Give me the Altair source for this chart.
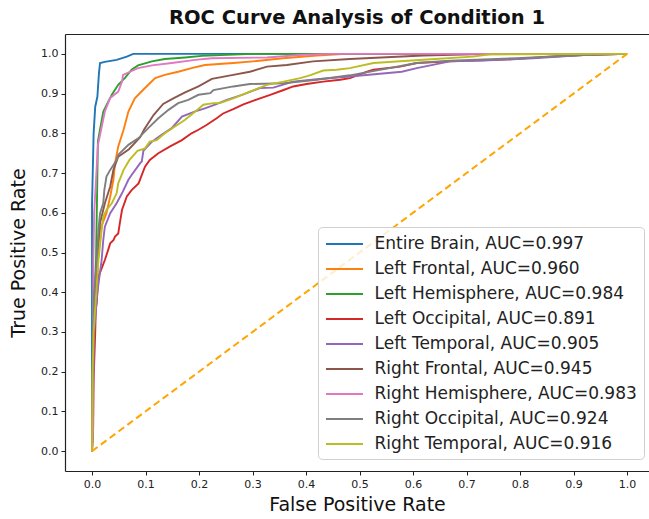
import altair as alt
import pandas as pd

FONT = "DejaVu Sans"

names = ["Entire Brain", "Left Frontal", "Left Hemisphere", "Left Occipital",
         "Left Temporal", "Right Frontal", "Right Hemisphere", "Right Occipital",
         "Right Temporal"]
aucs = [0.997, 0.960, 0.984, 0.891, 0.905, 0.945, 0.983, 0.924, 0.916]
colors = ["#1f77b4", "#ff7f0e", "#2ca02c", "#d62728", "#9467bd",
          "#8c564b", "#e377c2", "#7f7f7f", "#bcbd22"]

fpr_entire_brain = [0, 0, 0.003, 0.006, 0.010, 0.013, 0.015, 0.024, 0.046, 0.065, 0.077, 1.0]
tpr_entire_brain = [0, 0.62, 0.80, 0.867, 0.892, 0.952, 0.977, 0.980, 0.985, 0.993, 1.0, 1.0]

fpr_left_frontal = [0, 0.001, 0.004, 0.009, 0.012, 0.015, 0.027, 0.034, 0.040, 0.043, 0.049, 0.059,
                    0.068, 0.080, 0.099, 0.118, 0.136, 0.161, 0.186, 0.211, 0.264, 0.308, 0.357,
                    0.420, 0.475, 1.0]
tpr_left_frontal = [0, 0.15, 0.33, 0.38, 0.515, 0.557, 0.599, 0.641, 0.683, 0.725, 0.767, 0.809,
                    0.855, 0.888, 0.914, 0.939, 0.947, 0.955, 0.964, 0.972, 0.977, 0.982, 0.989,
                    0.996, 1.0, 1.0]

fpr_left_hemisphere = [0, 0.001, 0.003, 0.0075, 0.011, 0.015, 0.021, 0.027, 0.037, 0.049, 0.062,
                       0.074, 0.086, 0.112, 0.136, 0.174, 0.205, 0.300, 1.0]
tpr_left_hemisphere = [0, 0.20, 0.35, 0.48, 0.78, 0.81, 0.854, 0.871, 0.897, 0.922, 0.940,
                       0.960, 0.971, 0.981, 0.987, 0.991, 0.995, 1.0, 1.0]

fpr_left_occipital = [0, 0.002, 0.003, 0.006, 0.007, 0.009, 0.012, 0.018, 0.024, 0.030, 0.034,
                      0.040, 0.043, 0.049, 0.052, 0.056, 0.065, 0.074, 0.087, 0.099, 0.108, 0.124,
                      0.146, 0.168, 0.186, 0.199, 0.214, 0.233, 0.245, 0.264, 0.283, 0.314, 0.333,
                      0.358, 0.376, 0.401, 0.432, 0.464, 0.482, 0.514, 0.526, 0.576, 0.607, 0.669,
                      0.781, 0.856, 0.918, 1.0]
tpr_left_occipital = [0, 0.05, 0.18, 0.30, 0.355, 0.38, 0.439, 0.46, 0.481, 0.506, 0.523,
                      0.531, 0.540, 0.548, 0.574, 0.607, 0.641, 0.657, 0.674, 0.716, 0.733, 0.750,
                      0.767, 0.783, 0.800, 0.809, 0.821, 0.838, 0.850, 0.861, 0.873, 0.888, 0.897,
                      0.909, 0.918, 0.924, 0.930, 0.935, 0.939, 0.955, 0.960, 0.968, 0.977, 0.981,
                      0.986, 0.993, 0.997, 1.0]

fpr_left_temporal = [0, 0.002, 0.004, 0.010, 0.018, 0.021, 0.024, 0.034, 0.046, 0.056, 0.068,
                     0.074, 0.090, 0.093, 0.096, 0.112, 0.130, 0.149, 0.168, 0.193, 0.211, 0.230,
                     0.252, 0.283, 0.314, 0.339, 0.376, 0.420, 0.482, 0.579, 0.607, 0.669, 0.731,
                     0.824, 0.918, 1.0]
tpr_left_temporal = [0, 0.15, 0.30, 0.40, 0.481, 0.531, 0.565, 0.599, 0.624, 0.649, 0.683,
                     0.695, 0.725, 0.729, 0.756, 0.779, 0.796, 0.813, 0.842, 0.855, 0.863, 0.872,
                     0.884, 0.898, 0.914, 0.915, 0.930, 0.936, 0.943, 0.955, 0.964, 0.981, 0.983,
                     0.989, 0.997, 1.0]

fpr_right_frontal = [0, 0.002, 0.004, 0.008, 0.011, 0.015, 0.024, 0.034, 0.040, 0.049, 0.069,
                     0.090, 0.098, 0.115, 0.133, 0.152, 0.174, 0.199, 0.224, 0.264, 0.295, 0.327,
                     0.364, 0.413, 0.482, 0.619, 0.712, 0.800, 1.0]
tpr_right_frontal = [0, 0.20, 0.35, 0.45, 0.515, 0.574, 0.624, 0.666, 0.708, 0.741, 0.760,
                     0.790, 0.811, 0.846, 0.874, 0.888, 0.903, 0.918, 0.937, 0.947, 0.955, 0.968,
                     0.972, 0.981, 0.987, 0.996, 0.999, 1.0, 1.0]

fpr_right_hemisphere = [0, 0.002, 0.0025, 0.004, 0.008, 0.011, 0.024, 0.034, 0.049, 0.056, 0.058,
                        0.071, 0.086, 0.112, 0.149, 0.193, 0.224, 0.327, 0.389, 0.445, 1.0]
tpr_right_hemisphere = [0, 0.05, 0.48, 0.60, 0.695, 0.77, 0.855, 0.889, 0.905, 0.930, 0.947,
                        0.955, 0.964, 0.971, 0.977, 0.985, 0.989, 0.991, 0.997, 1.0, 1.0]

fpr_right_occipital = [0, 0.001, 0.002, 0.004, 0.009, 0.012, 0.015, 0.021, 0.023, 0.027, 0.034,
                       0.046, 0.049, 0.068, 0.087, 0.105, 0.124, 0.143, 0.161, 0.180, 0.199, 0.221,
                       0.227, 0.264, 0.295, 0.358, 0.420, 0.482, 0.607, 0.669, 0.794, 0.918, 1.0]
tpr_right_occipital = [0, 0.15, 0.30, 0.40, 0.481, 0.557, 0.599, 0.624, 0.657, 0.691, 0.708,
                       0.733, 0.746, 0.771, 0.788, 0.813, 0.838, 0.859, 0.876, 0.884, 0.897, 0.901,
                       0.909, 0.918, 0.924, 0.926, 0.935, 0.946, 0.977, 0.983, 0.989, 0.997, 1.0]

fpr_right_temporal = [0, 0.001, 0.003, 0.008, 0.012, 0.018, 0.021, 0.027, 0.037, 0.046, 0.049,
                      0.059, 0.070, 0.085, 0.099, 0.108, 0.121, 0.136, 0.155, 0.174, 0.193, 0.208,
                      0.227, 0.239, 0.264, 0.295, 0.327, 0.358, 0.389, 0.407, 0.432, 0.457, 0.482,
                      0.526, 0.619, 0.712, 0.744, 1.0]
tpr_right_temporal = [0, 0.20, 0.30, 0.40, 0.481, 0.557, 0.590, 0.607, 0.624, 0.649, 0.674,
                      0.708, 0.733, 0.756, 0.762, 0.779, 0.783, 0.800, 0.817, 0.834, 0.855, 0.872,
                      0.876, 0.876, 0.888, 0.905, 0.922, 0.930, 0.939, 0.946, 0.958, 0.960, 0.964,
                      0.977, 0.985, 0.993, 0.999, 1.0]

diag_fpr = [0.0, 1.0]
diag_tpr = [0.0, 1.0]
tick_values = [0.0, 0.1, 0.2, 0.3, 0.4, 0.5, 0.6, 0.7, 0.8, 0.9, 1.0]

curves = [
    (fpr_entire_brain, tpr_entire_brain),
    (fpr_left_frontal, tpr_left_frontal),
    (fpr_left_hemisphere, tpr_left_hemisphere),
    (fpr_left_occipital, tpr_left_occipital),
    (fpr_left_temporal, tpr_left_temporal),
    (fpr_right_frontal, tpr_right_frontal),
    (fpr_right_hemisphere, tpr_right_hemisphere),
    (fpr_right_occipital, tpr_right_occipital),
    (fpr_right_temporal, tpr_right_temporal),
]

labels = [f"{n}, AUC={a:.3f}" for n, a in zip(names, aucs)]
rows = []
for label, (fx, ty) in zip(labels, curves):
    for i, (x, y) in enumerate(zip(fx, ty)):
        rows.append({"label": label, "fpr": x, "tpr": y, "idx": i})
df = pd.DataFrame(rows)
diag_df = pd.DataFrame({"fpr": diag_fpr, "tpr": diag_tpr})

xscale = alt.Scale(domain=[-0.0505, 1.041], nice=False, zero=False)
yscale = alt.Scale(domain=[-0.05, 1.05], nice=False, zero=False)

x_axis = alt.Axis(values=tick_values, format=".1f", title="False Positive Rate", grid=False,
                  labelFont=FONT, labelFontSize=11, labelColor="#222", labelPadding=3,
                  tickColor="#222", tickSize=4, tickWidth=1, domainColor="#222", domainWidth=1.2,
                  titleFont=FONT, titleFontSize=19, titleFontWeight="normal", titleColor="#111",
                  titlePadding=6, labelFlush=False)
y_axis = alt.Axis(values=tick_values, format=".1f", title="True Positive Rate", grid=False,
                  labelFont=FONT, labelFontSize=11, labelColor="#222", labelPadding=3,
                  tickColor="#222", tickSize=4, tickWidth=1, domainColor="#222", domainWidth=1.2,
                  titleFont=FONT, titleFontSize=19, titleFontWeight="normal", titleColor="#111",
                  titlePadding=12, labelFlush=False)
top_axis = alt.Axis(orient="top", labels=False, ticks=False, title=None, grid=False,
                    domainColor="#222", domainWidth=1.2)

# horizontal line symbol, 37 px long at symbolSize 324 (r = 9)
line_symbol = "M-2.055,0H2.055"

lines = alt.Chart(df).mark_line(strokeWidth=1.9).encode(
    x=alt.X("fpr:Q", scale=xscale, axis=x_axis),
    y=alt.Y("tpr:Q", scale=yscale, axis=y_axis),
    color=alt.Color("label:N", scale=alt.Scale(domain=labels, range=colors),
                    legend=alt.Legend(orient="none", legendX=253, legendY=193, title=None,
                                      symbolType=line_symbol, symbolSize=324, symbolStrokeWidth=2,
                                      symbolOffset=9.5,
                                      labelFont=FONT, labelFontSize=17, labelColor="#222",
                                      rowPadding=7, padding=7, labelOffset=20, labelLimit=400,
                                      strokeColor="#d0d0d0", fillColor="rgba(255,255,255,0.8)",
                                      cornerRadius=4)),
    order=alt.Order("idx:Q"),
)

diag = alt.Chart(diag_df).mark_line(color="#FFA500", strokeDash=[7, 4], strokeWidth=2).encode(
    x=alt.X("fpr:Q", scale=xscale, axis=top_axis),
    y=alt.Y("tpr:Q", scale=yscale, axis=y_axis),
)

chart = alt.layer(lines, diag).resolve_axis(x="independent").properties(
    width=584, height=437,
    title=alt.Title("ROC Curve Analysis of Condition 1", font=FONT, fontSize=19.5,
                    fontWeight="bold", color="#111", anchor="middle", offset=6),
    autosize=alt.AutoSizeParams(type="none"),
    padding={"left": 65, "top": 34, "right": 0, "bottom": 48},
).configure_view(stroke=None)

chart.save("out.html", embed_options={"renderer": "svg", "actions": False})
